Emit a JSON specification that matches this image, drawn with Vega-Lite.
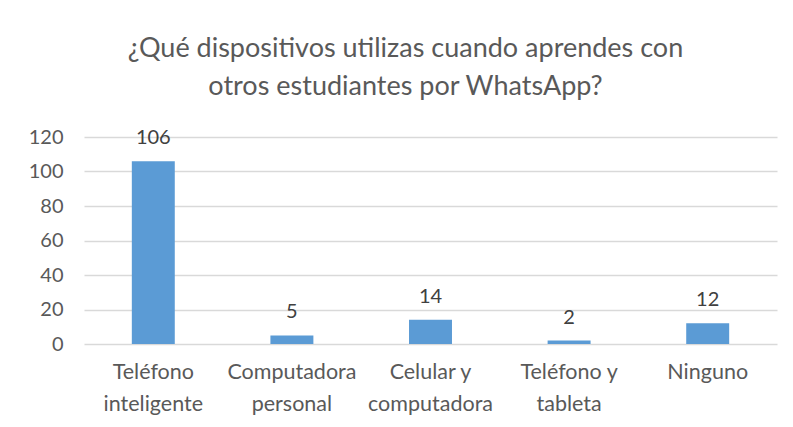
{
  "$schema": "https://vega.github.io/schema/vega-lite/v6.json",
  "width": 693,
  "height": 207,
  "autosize": {"type": "none"},
  "padding": {"left": 84, "top": 137, "right": 16, "bottom": 83},
  "background": "white",
  "title": {
    "text": ["¿Qué dispositivos utilizas cuando aprendes con", "otros estudiantes por WhatsApp?"],
    "font": "Lato",
    "fontSize": 27,
    "fontWeight": "normal",
    "color": "#595959",
    "lineHeight": 38,
    "anchor": "middle",
    "frame": "group",
    "dx": -25,
    "offset": 26
  },
  "data": {
    "values": [
      {"dispositivo": "Teléfono|inteligente", "n": 106},
      {"dispositivo": "Computadora|personal", "n": 5},
      {"dispositivo": "Celular y|computadora", "n": 14},
      {"dispositivo": "Teléfono y|tableta", "n": 2},
      {"dispositivo": "Ninguno", "n": 12}
    ]
  },
  "encoding": {
    "x": {
      "field": "dispositivo",
      "type": "nominal",
      "sort": null,
      "scale": {"paddingInner": 0.69, "paddingOuter": 0.345},
      "axis": {
        "title": null,
        "labelAngle": 0,
        "labelExpr": "split(datum.label, '|')",
        "labelFont": "Lato",
        "labelFontSize": 21.5,
        "labelColor": "#595959",
        "labelLineHeight": 32,
        "labelPadding": 17,
        "ticks": false,
        "domain": false
      }
    },
    "y": {
      "field": "n",
      "type": "quantitative",
      "scale": {"domain": [0, 120]},
      "axis": {
        "title": null,
        "values": [0, 20, 40, 60, 80, 100, 120],
        "labelFont": "Lato",
        "labelFontSize": 20,
        "labelColor": "#595959",
        "labelPadding": 21,
        "ticks": false,
        "domain": false,
        "gridColor": "#d9d9d9",
        "gridWidth": 1.5
      }
    }
  },
  "layer": [
    {"mark": {"type": "bar", "color": "#5B9BD5"}},
    {
      "mark": {"type": "text", "font": "Lato", "fontSize": 20, "color": "#404040", "baseline": "alphabetic", "dy": -17},
      "encoding": {"text": {"field": "n", "type": "quantitative"}}
    }
  ],
  "config": {"view": {"stroke": null}}
}
